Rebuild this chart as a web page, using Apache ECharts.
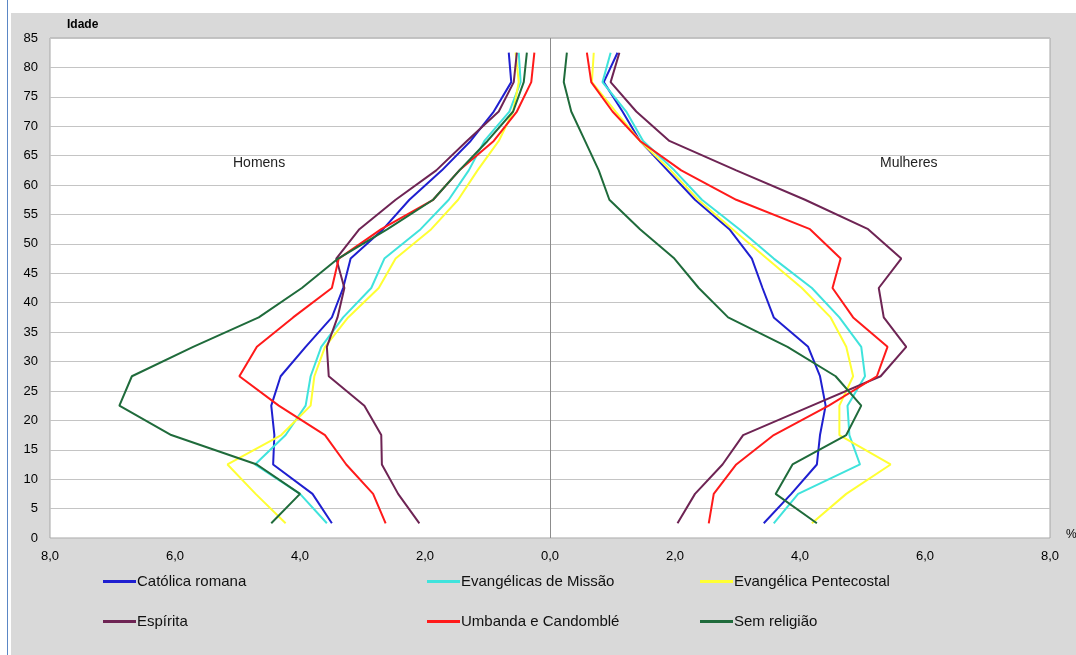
<!DOCTYPE html>
<html>
<head>
<meta charset="utf-8">
<script src="https://cdn.jsdelivr.net/npm/echarts@6/dist/echarts.min.js"></script>
<style>
html,body{margin:0;padding:0;background:#fff;}
#c{width:1076px;height:655px;}
</style>
</head>
<body>
<div id="c"></div>
<script>
// Age group midpoints (years)
const ages = [2.5, 7.5, 12.5, 17.5, 22.5, 27.5, 32.5, 37.5, 42.5, 47.5, 52.5, 57.5, 62.5, 67.5, 72.5, 77.5, 82.5];

// Series names
const seriesNames = ['Católica romana', 'Evangélicas de Missão', 'Evangélica Pentecostal', 'Espírita', 'Umbanda e Candomblé', 'Sem religião'];

// Men (Homens), % by age group
const catolicaH  = [3.49, 3.80, 4.43, 4.41, 4.46, 4.31, 3.91, 3.49, 3.31, 3.19, 2.67, 2.25, 1.73, 1.27, 0.90, 0.62, 0.66];
const evMissaoH  = [3.57, 4.00, 4.72, 4.23, 3.91, 3.83, 3.66, 3.31, 2.86, 2.65, 2.07, 1.62, 1.30, 1.05, 0.65, 0.47, 0.50];
const evPentH    = [4.23, 4.71, 5.16, 4.30, 3.83, 3.77, 3.60, 3.23, 2.74, 2.47, 1.90, 1.47, 1.16, 0.82, 0.59, 0.50, 0.55];
const espiritaH  = [2.09, 2.43, 2.69, 2.70, 2.97, 3.54, 3.57, 3.40, 3.29, 3.42, 3.05, 2.47, 1.82, 1.33, 0.82, 0.58, 0.53];
const umbandaH   = [2.63, 2.83, 3.26, 3.60, 4.34, 4.97, 4.69, 4.11, 3.49, 3.38, 2.70, 1.87, 1.45, 0.90, 0.53, 0.30, 0.25];
const semRelH    = [4.46, 4.00, 4.69, 6.06, 6.89, 6.69, 5.71, 4.66, 3.97, 3.39, 2.60, 1.87, 1.45, 1.00, 0.59, 0.42, 0.37];

// Women (Mulheres), % by age group
const catolicaM  = [3.42, 3.86, 4.27, 4.32, 4.41, 4.32, 4.13, 3.58, 3.40, 3.23, 2.87, 2.32, 1.88, 1.44, 1.16, 0.86, 1.08];
const evMissaoM  = [3.58, 3.97, 4.96, 4.79, 4.76, 5.04, 4.98, 4.63, 4.19, 3.58, 3.03, 2.43, 1.99, 1.49, 1.22, 0.84, 0.97];
const evPentM    = [4.19, 4.74, 5.45, 4.63, 4.63, 4.85, 4.74, 4.49, 4.03, 3.47, 2.92, 2.37, 1.93, 1.44, 1.05, 0.67, 0.70];
const espiritaM  = [2.04, 2.32, 2.76, 3.09, 4.19, 5.29, 5.70, 5.34, 5.26, 5.62, 5.09, 4.08, 2.98, 1.91, 1.38, 0.97, 1.11];
const umbandaM   = [2.54, 2.62, 2.98, 3.58, 4.46, 5.23, 5.40, 4.85, 4.52, 4.65, 4.16, 2.98, 2.10, 1.44, 1.00, 0.66, 0.59];
const semRelM    = [4.27, 3.61, 3.88, 4.74, 4.98, 4.57, 3.80, 2.85, 2.38, 1.99, 1.44, 0.95, 0.78, 0.56, 0.34, 0.22, 0.27];

// X-axis tick labels (absolute values)
const xTicks = [-8, -6, -4, -2, 0, 2, 4, 6, 8];

const colors = ['#1f1fd0', '#3fe3dc', '#ffff33', '#6e2454', '#ff1a1a', '#1f6b3b'];
const menData = [catolicaH, evMissaoH, evPentH, espiritaH, umbandaH, semRelH];
const womenData = [catolicaM, evMissaoM, evPentM, espiritaM, umbandaM, semRelM];

const FONT = 'Liberation Sans, Arial, sans-serif';
const series = [];
seriesNames.forEach((name, i) => {
  series.push({
    name, type: 'line', symbol: 'none', smooth: false,
    lineStyle: {width: 2, color: colors[i]}, itemStyle: {color: colors[i]},
    data: ages.map((a, k) => [-menData[i][k], a]),
    z: 3
  });
  series.push({
    name, type: 'line', symbol: 'none', smooth: false,
    lineStyle: {width: 2, color: colors[i]}, itemStyle: {color: colors[i]},
    data: ages.map((a, k) => [womenData[i][k], a]),
    z: 3
  });
});
// vertical zero line
series[0].markLine = {
  silent: true, symbol: 'none', label: {show: false},
  lineStyle: {color: '#8c8c8c', width: 1, type: 'solid'},
  data: [{xAxis: 0}]
};

const legendPos = [[98, 569], [422, 569], [695, 569], [98, 609], [422, 609], [695, 609]];
const legends = seriesNames.map((name, i) => ({
  data: [name], left: legendPos[i][0], top: legendPos[i][1],
  icon: 'rect', itemWidth: 33, itemHeight: 3, itemGap: 0,
  textStyle: {color: '#111', fontSize: 15, fontFamily: FONT, padding: [0, 0, 0, -4]},
  selectedMode: false
}));

const chart = echarts.init(document.getElementById('c'));
chart.setOption({
  backgroundColor: '#ffffff',
  animation: false,
  graphic: [
    {type: 'rect', left: 11, top: 13, shape: {width: 1065, height: 642}, style: {fill: '#d9d9d9'}, z: -10},
    {type: 'rect', left: 7, top: 0, shape: {width: 1, height: 655}, style: {fill: '#5b87c5'}, z: -10},
    {type: 'text', left: 67, top: 19, style: {text: 'Idade', font: 'bold 12px ' + FONT, fill: '#000'}},
    {type: 'text', left: 1066, top: 529, style: {text: '%', font: '12px ' + FONT, fill: '#000'}},
    {type: 'text', left: 233, top: 156, style: {text: 'Homens', font: '14px ' + FONT, fill: '#222'}, z: 10},
    {type: 'text', left: 880, top: 156, style: {text: 'Mulheres', font: '14px ' + FONT, fill: '#222'}, z: 10}
  ],
  legend: legends,
  grid: {left: 50, top: 38, width: 1000, height: 500, show: true, backgroundColor: '#ffffff', borderColor: '#a6a6a6', borderWidth: 1},
  xAxis: {
    type: 'value', min: -8, max: 8, interval: 2,
    axisLine: {show: false}, axisTick: {show: false},
    splitLine: {show: false},
    axisLabel: {
      margin: 12, color: '#000', fontSize: 13, fontFamily: FONT,
      formatter: v => xTicks.includes(v) ? Math.abs(v).toFixed(1).replace('.', ',') : ''
    }
  },
  yAxis: {
    type: 'value', min: 0, max: 85, interval: 5,
    axisLine: {show: false}, axisTick: {show: false},
    splitLine: {show: true, lineStyle: {color: '#c4c4c4', width: 1}},
    axisLabel: {margin: 12, color: '#000', fontSize: 13, fontFamily: FONT}
  },
  series
});
</script>
</body>
</html>
